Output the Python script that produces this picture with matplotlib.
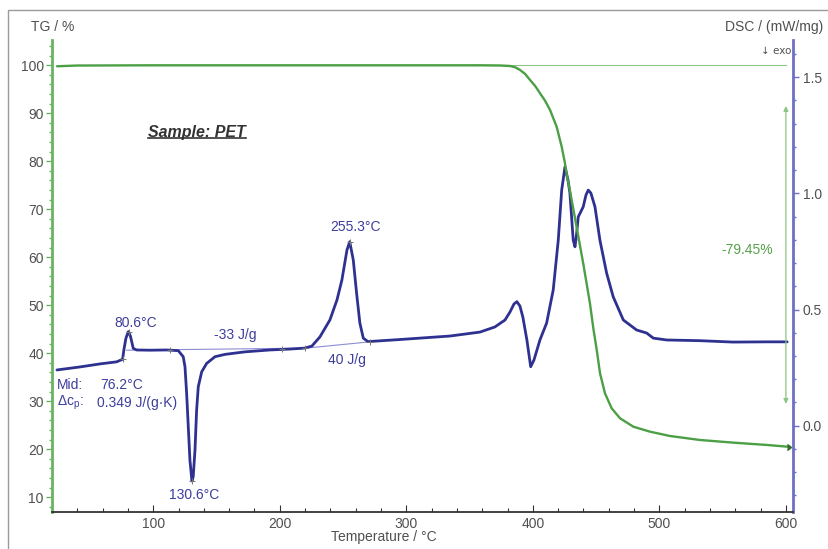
import matplotlib
matplotlib.use("Agg")
import matplotlib.pyplot as plt
from matplotlib.patches import Rectangle, FancyArrowPatch
from matplotlib.lines import Line2D
from matplotlib.ticker import MultipleLocator

plt.rcParams['font.family'] = ['Liberation Sans', 'DejaVu Sans']
plt.rcParams['mathtext.fontset'] = 'custom'
plt.rcParams['mathtext.rm'] = 'Liberation Sans'

# ---------------- data ----------------
dsc_temp = [23.9, 42.1, 57.9, 71.1, 75.8, 76.8, 78.4, 80.2, 80.6, 82.1, 84.2, 86.9,
            97.4, 110.6, 119.8, 123.7, 125.1, 126.4, 127.7, 129.0, 130.6, 131.6, 133.0,
            134.3, 135.6, 138.3, 142.2, 148.8, 156.7, 172.5, 192.2, 208.0, 219.9, 225.4,
            231.7, 239.6, 245.2, 249.1, 253.1, 255.3, 258.1, 260.7, 263.3, 266.0, 269.7,
            295.0, 334.5, 358.2, 370.0, 378.0, 381.9, 385.1, 387.4, 389.8, 392.1, 395.3,
            398.3, 400.9, 405.6, 410.9, 416.1, 420.1, 422.8, 425.4, 427.8, 429.3, 431.9,
            433.3, 434.5, 435.9, 439.8, 442.0, 443.8, 445.9, 449.1, 453.0, 458.3, 463.5,
            471.5, 482.0, 489.9, 495.2, 505.8, 532.1, 558.1, 584.8, 601.0]
dsc_val = [0.240, 0.253, 0.266, 0.275, 0.286, 0.326, 0.376, 0.404, 0.405, 0.383, 0.333, 0.326,
           0.325, 0.326, 0.323, 0.297, 0.254, 0.139, -0.004, -0.148, -0.238, -0.219, -0.105,
           0.068, 0.168, 0.232, 0.268, 0.297, 0.307, 0.318, 0.326, 0.330, 0.334, 0.343,
           0.382, 0.455, 0.541, 0.627, 0.756, 0.792, 0.713, 0.571, 0.442, 0.377, 0.362,
           0.371, 0.386, 0.403, 0.425, 0.455, 0.489, 0.524, 0.534, 0.515, 0.468, 0.369,
           0.254, 0.283, 0.369, 0.442, 0.584, 0.799, 1.014, 1.114, 1.057, 1.001, 0.799,
           0.770, 0.821, 0.899, 0.942, 0.993, 1.014, 1.001, 0.942, 0.799, 0.657, 0.555,
           0.455, 0.412, 0.399, 0.377, 0.369, 0.366, 0.360, 0.361, 0.361]

tg_temp = [24.0, 40.0, 100.0, 300.0, 358.3, 374.1, 382.0, 386.0, 389.9, 393.9, 397.8, 401.8,
           405.7, 409.7, 413.6, 418.8, 422.8, 425.4, 427.2, 429.6, 434.6, 439.9, 445.2,
           447.8, 450.5, 453.1, 457.0, 462.3, 468.9, 479.4, 492.6, 508.4, 532.1, 558.8,
           585.1, 601.0]
tg_val = [99.8, 99.95, 100.0, 100.0, 100.0, 99.96, 99.85, 99.6, 99.02, 98.2, 96.94, 95.7,
          94.17, 92.6, 90.69, 87.21, 83.04, 79.58, 76.6, 73.5, 66.3, 58.6, 50.3,
          45.2, 40.69, 35.83, 31.67, 28.54, 26.46, 24.71, 23.67, 22.77, 21.94, 21.38,
          20.90, 20.55]

# integration baselines (temperature, DSC)
base1_temp = [79.0, 220.0]
base1_val = [0.325, 0.334]
base2_temp = [218.8, 271.3]
base2_val = [0.333, 0.361]

# evaluation marker points (temperature, DSC)
mark_temp = [75.8, 80.6, 113.2, 130.6, 201.7, 219.9, 255.3, 271.3]
mark_val = [0.286, 0.405, 0.325, -0.238, 0.330, 0.334, 0.792, 0.361]

x_ticks = [100, 200, 300, 400, 500, 600]
tg_ticks = [10, 20, 30, 40, 50, 60, 70, 80, 90, 100]
dsc_ticks = [0.0, 0.5, 1.0, 1.5]
mass_loss = "-79.45%"

# ---------------- style ----------------
W, H = 829, 549
BLUE = '#2e3190'
BLUE_TXT = '#3d3d9e'
BLUE_AX = '#6f6fc4'
GREEN = '#4c9f45'
GREEN_AX = '#6ab364'
GREEN_TXT = '#55a04a'
GREY_TXT = '#505050'

fig = plt.figure(figsize=(W / 100, H / 100), dpi=100)
fig.patch.set_facecolor('white')

# outer frame
fig.add_artist(Rectangle((8 / W, -0.05), 1.2, (549 - 10) / H + 0.05, transform=fig.transFigure,
                         fill=False, edgecolor='#9a9a9a', linewidth=1.0))

left, right, bottom, top = 52, 793, 511.7, 40
ax = fig.add_axes([left / W, 1 - bottom / H, (right - left) / W, (bottom - top) / H])   # TG (left)
ax2 = ax.twinx()                                                                          # DSC (right)
ax.set_zorder(ax2.get_zorder() + 1)
ax.patch.set_visible(False)

ax.set_xlim(20, 605.6)
ax.set_ylim(7.0, 105.27)
ax2.set_ylim(-0.370, 1.660)

# DSC curve and evaluation
ax2.plot(base1_temp, base1_val, color='#8c8cd2', lw=0.8, zorder=2)
ax2.plot(base2_temp, base2_val, color='#8c8cd2', lw=0.8, zorder=2)
ax2.plot(dsc_temp, dsc_val, color=BLUE, lw=2.0, solid_joinstyle='round', solid_capstyle='round',
         zorder=3)
ax2.plot(mark_temp, mark_val, linestyle='none', marker='+', ms=4, mew=0.7, color='#777777', zorder=4)

# TG curve
ax.plot([350, 600], [100, 100], color='#8cc585', lw=0.8, zorder=2)
ax.plot(tg_temp, tg_val, color=GREEN, lw=1.7, solid_joinstyle='round', solid_capstyle='round',
        zorder=3)
ax.plot([tg_temp[-1]], [tg_val[-1]], marker=9, ms=4, color='#2f6b2a', zorder=4)

# mass loss arrow
arr = FancyArrowPatch((600, 28.9), (600, 92.1), arrowstyle='<|-|>', mutation_scale=7,
                      color='#8cc585', lw=0.9, zorder=2)
ax.add_patch(arr)
ax2.text(569.4, 0.756, mass_loss, color=GREEN_TXT, fontsize=10, ha='center', va='center')

# annotations
fs = 10
ax2.text(85.9, 0.443, "80.6°C", color=BLUE_TXT, fontsize=fs, ha='center', va='center')
ax2.text(165.0, 0.390, "-33 J/g", color=BLUE_TXT, fontsize=fs, ha='center', va='center')
ax2.text(253.1, 0.283, "40 J/g", color=BLUE_TXT, fontsize=fs, ha='center', va='center')
ax2.text(23.9, 0.175, "Mid:", color=BLUE_TXT, fontsize=fs, ha='left', va='center')
ax2.text(57.9, 0.175, "76.2°C", color=BLUE_TXT, fontsize=fs, ha='left', va='center')
ax2.text(23.9, 0.098, r"Δc$_\mathregular{p}$:", color=BLUE_TXT, fontsize=fs, ha='left', va='center')
ax2.text(55.5, 0.098, "0.349 J/(g·K)", color=BLUE_TXT, fontsize=fs, ha='left', va='center')
ax2.text(132.2, -0.298, "130.6°C", color=BLUE_TXT, fontsize=fs, ha='center', va='center')
ax2.text(260.2, 0.855, "255.3°C", color=BLUE_TXT, fontsize=fs, ha='center', va='center')

sample = ax2.text(134.6, 1.264, "Sample: PET", color='#333333', fontsize=11.5,
                  fontweight='bold', fontstyle='italic', ha='center', va='center')

# axis titles
fig.text(52.5 / W, 1 - 27 / H, "TG / %", color=GREY_TXT, fontsize=10, ha='center', va='center')
fig.text(725 / W, 1 - 27 / H, "DSC / (mW/mg)", color=GREY_TXT, fontsize=10, ha='left', va='center')
fig.text(791 / W, 1 - 51 / H, "↓ exo", color=GREY_TXT, fontsize=7.5, ha='right', va='center',
         family=['DejaVu Sans'])
fig.text(384 / W, 1 - 537 / H, "Temperature / °C", color=GREY_TXT, fontsize=10, ha='center', va='center')

# spines
for a in (ax, ax2):
    a.spines['top'].set_visible(False)
ax.spines['right'].set_visible(False)
ax.spines['left'].set_color(GREEN_AX)
ax.spines['left'].set_linewidth(2.0)
ax.spines['bottom'].set_color('#333333')
ax.spines['bottom'].set_linewidth(1.3)
ax2.spines['left'].set_visible(False)
ax2.spines['bottom'].set_visible(False)
ax2.spines['right'].set_color(BLUE_AX)
ax2.spines['right'].set_linewidth(2.0)

# ticks
ax.set_xticks(x_ticks)
ax.xaxis.set_minor_locator(MultipleLocator(20))
ax.tick_params(axis='x', which='both', direction='in', colors='#333333', labelcolor=GREY_TXT,
               labelsize=10, pad=4)
ax.tick_params(axis='x', which='major', length=5, width=0.8)
ax.tick_params(axis='x', which='minor', length=3, width=0.8)

ax.set_yticks(tg_ticks)
ax.yaxis.set_minor_locator(MultipleLocator(2))
ax.tick_params(axis='y', which='both', direction='out', colors=GREEN_AX, labelcolor=GREY_TXT,
               labelsize=10, pad=2)
ax.tick_params(axis='y', which='major', length=4, width=1)
ax.tick_params(axis='y', which='minor', length=2, width=1)

ax2.set_yticks(dsc_ticks)
ax2.set_yticklabels([f"{v:.1f}" for v in dsc_ticks])
ax2.yaxis.set_minor_locator(MultipleLocator(0.1))
ax2.tick_params(axis='y', which='both', direction='out', colors=BLUE_AX, labelcolor=GREY_TXT,
                labelsize=10, pad=3)
ax2.tick_params(axis='y', which='major', length=4, width=1)
ax2.tick_params(axis='y', which='minor', length=2, width=1)

# underline for the sample label
fig.canvas.draw()
bb = sample.get_window_extent().transformed(fig.transFigure.inverted())
fig.add_artist(Line2D([bb.x0, bb.x1], [bb.y0 + 0.002, bb.y0 + 0.002], transform=fig.transFigure,
                      color='#333333', lw=1.2))

fig.savefig("out.png", dpi=100, facecolor='white')
